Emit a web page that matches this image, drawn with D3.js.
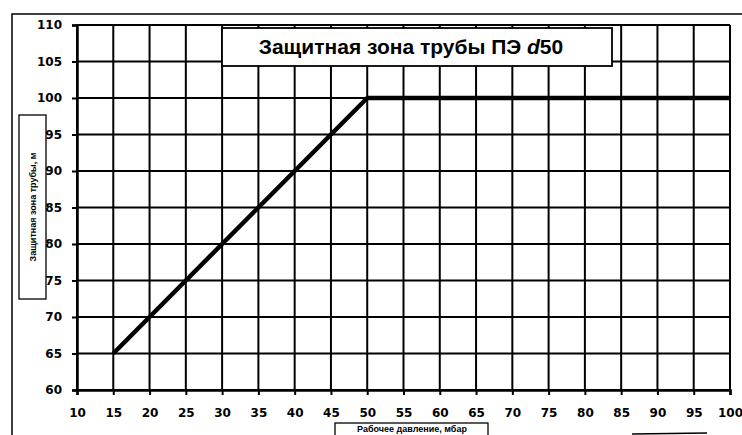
<!DOCTYPE html>
<html><head><meta charset="utf-8">
<script src="https://cdn.jsdelivr.net/npm/d3@7"></script>
<style>body{margin:0;background:#fff}svg{display:block}</style>
</head><body>
<svg id="c" width="742" height="435"></svg>
<script>
const pressure = [15,20,25,30,35,40,45,50,55,60,65,70,75,80,85,90,95,100];
const zone     = [65,70,75,80,85,90,95,100,100,100,100,100,100,100,100,100,100,100];
const xTicks = [10,15,20,25,30,35,40,45,50,55,60,65,70,75,80,85,90,95,100];
const yTicks = [60,65,70,75,80,85,90,95,100,105,110];
const titleMain = "Защитная зона трубы ПЭ ";
const titleD = "d";
const titleNum = "50";
const yTitle = "Защитная зона трубы, м";
const xTitle = "Рабочее давление, мбар";

const svg = d3.select("#c");
const L = 77, R = 730, T = 25, B = 390;
const x = d3.scaleLinear().domain([10,100]).range([L,R]);
const y = d3.scaleLinear().domain([60,110]).range([B,T]);

// outer frame
svg.append("path").attr("d","M12,440 L12,14 L760,14").attr("fill","none").attr("stroke","#000").attr("stroke-width",1.5);

// grid
const g = svg.append("g");
g.selectAll(".hg").data(yTicks).join("line")
  .attr("x1",L).attr("x2",R).attr("y1",d=>y(d)).attr("y2",d=>y(d))
  .attr("stroke","#000").attr("stroke-width",2);
g.selectAll(".vg").data(xTicks).join("line")
  .attr("y1",T).attr("y2",B).attr("x1",d=>x(d)).attr("x2",d=>x(d))
  .attr("stroke","#000").attr("stroke-width",2);

// axes
const yAxis = d3.axisLeft(y).tickValues(yTicks).tickSize(5).tickPadding(10);
const xAxis = d3.axisBottom(x).tickValues(xTicks).tickSize(5).tickPadding(13);
const ya = svg.append("g").attr("transform",`translate(${L},0)`).call(yAxis);
const xa = svg.append("g").attr("transform",`translate(0,${B})`).call(xAxis);
[ya,xa].forEach(a=>{
  a.select(".domain").attr("stroke","#000").attr("stroke-width",2.5);
  a.selectAll(".tick line").attr("stroke","#000").attr("stroke-width",2);
  a.selectAll("text").attr("fill","#000").attr("font-family","DejaVu Sans").attr("font-weight","bold").attr("font-size",12);
});

// title box
svg.append("rect").attr("x",222).attr("y",28).attr("width",390).attr("height",38)
  .attr("fill","#fff").attr("stroke","#000").attr("stroke-width",1.8);
const tt = svg.append("text").attr("x",411).attr("y",54).attr("text-anchor","middle")
  .attr("font-family","Liberation Sans").attr("font-weight","bold").attr("font-size",21).attr("fill","#000");
tt.append("tspan").text(titleMain);
tt.append("tspan").attr("font-style","italic").text(titleD);
tt.append("tspan").text(titleNum);

// line
svg.append("path").datum(pressure.map((p,i)=>[p,zone[i]]))
  .attr("d",d3.line().x(d=>x(d[0])).y(d=>y(d[1])))
  .attr("fill","none").attr("stroke","#000").attr("stroke-width",4.5).attr("stroke-linejoin","round");

// y title box
svg.append("rect").attr("x",19).attr("y",115).attr("width",27).attr("height",184)
  .attr("fill","#fff").attr("stroke","#000").attr("stroke-width",1.3);
svg.append("text").attr("transform","translate(36,207) rotate(-90)").attr("text-anchor","middle")
  .attr("font-family","Liberation Sans").attr("font-weight","bold").attr("font-size",9).attr("fill","#000").text(yTitle);

// x title box
svg.append("rect").attr("x",335).attr("y",423).attr("width",153).attr("height",20)
  .attr("fill","#fff").attr("stroke","#000").attr("stroke-width",1.3);
svg.append("text").attr("x",412).attr("y",432).attr("text-anchor","middle")
  .attr("font-family","Liberation Sans").attr("font-weight","bold").attr("font-size",9).attr("fill","#000").text(xTitle);

// bottom-right frame fragment
svg.append("line").attr("x1",632).attr("x2",707).attr("y1",434).attr("y2",433).attr("stroke","#000").attr("stroke-width",1.3);
</script>
</body></html>
